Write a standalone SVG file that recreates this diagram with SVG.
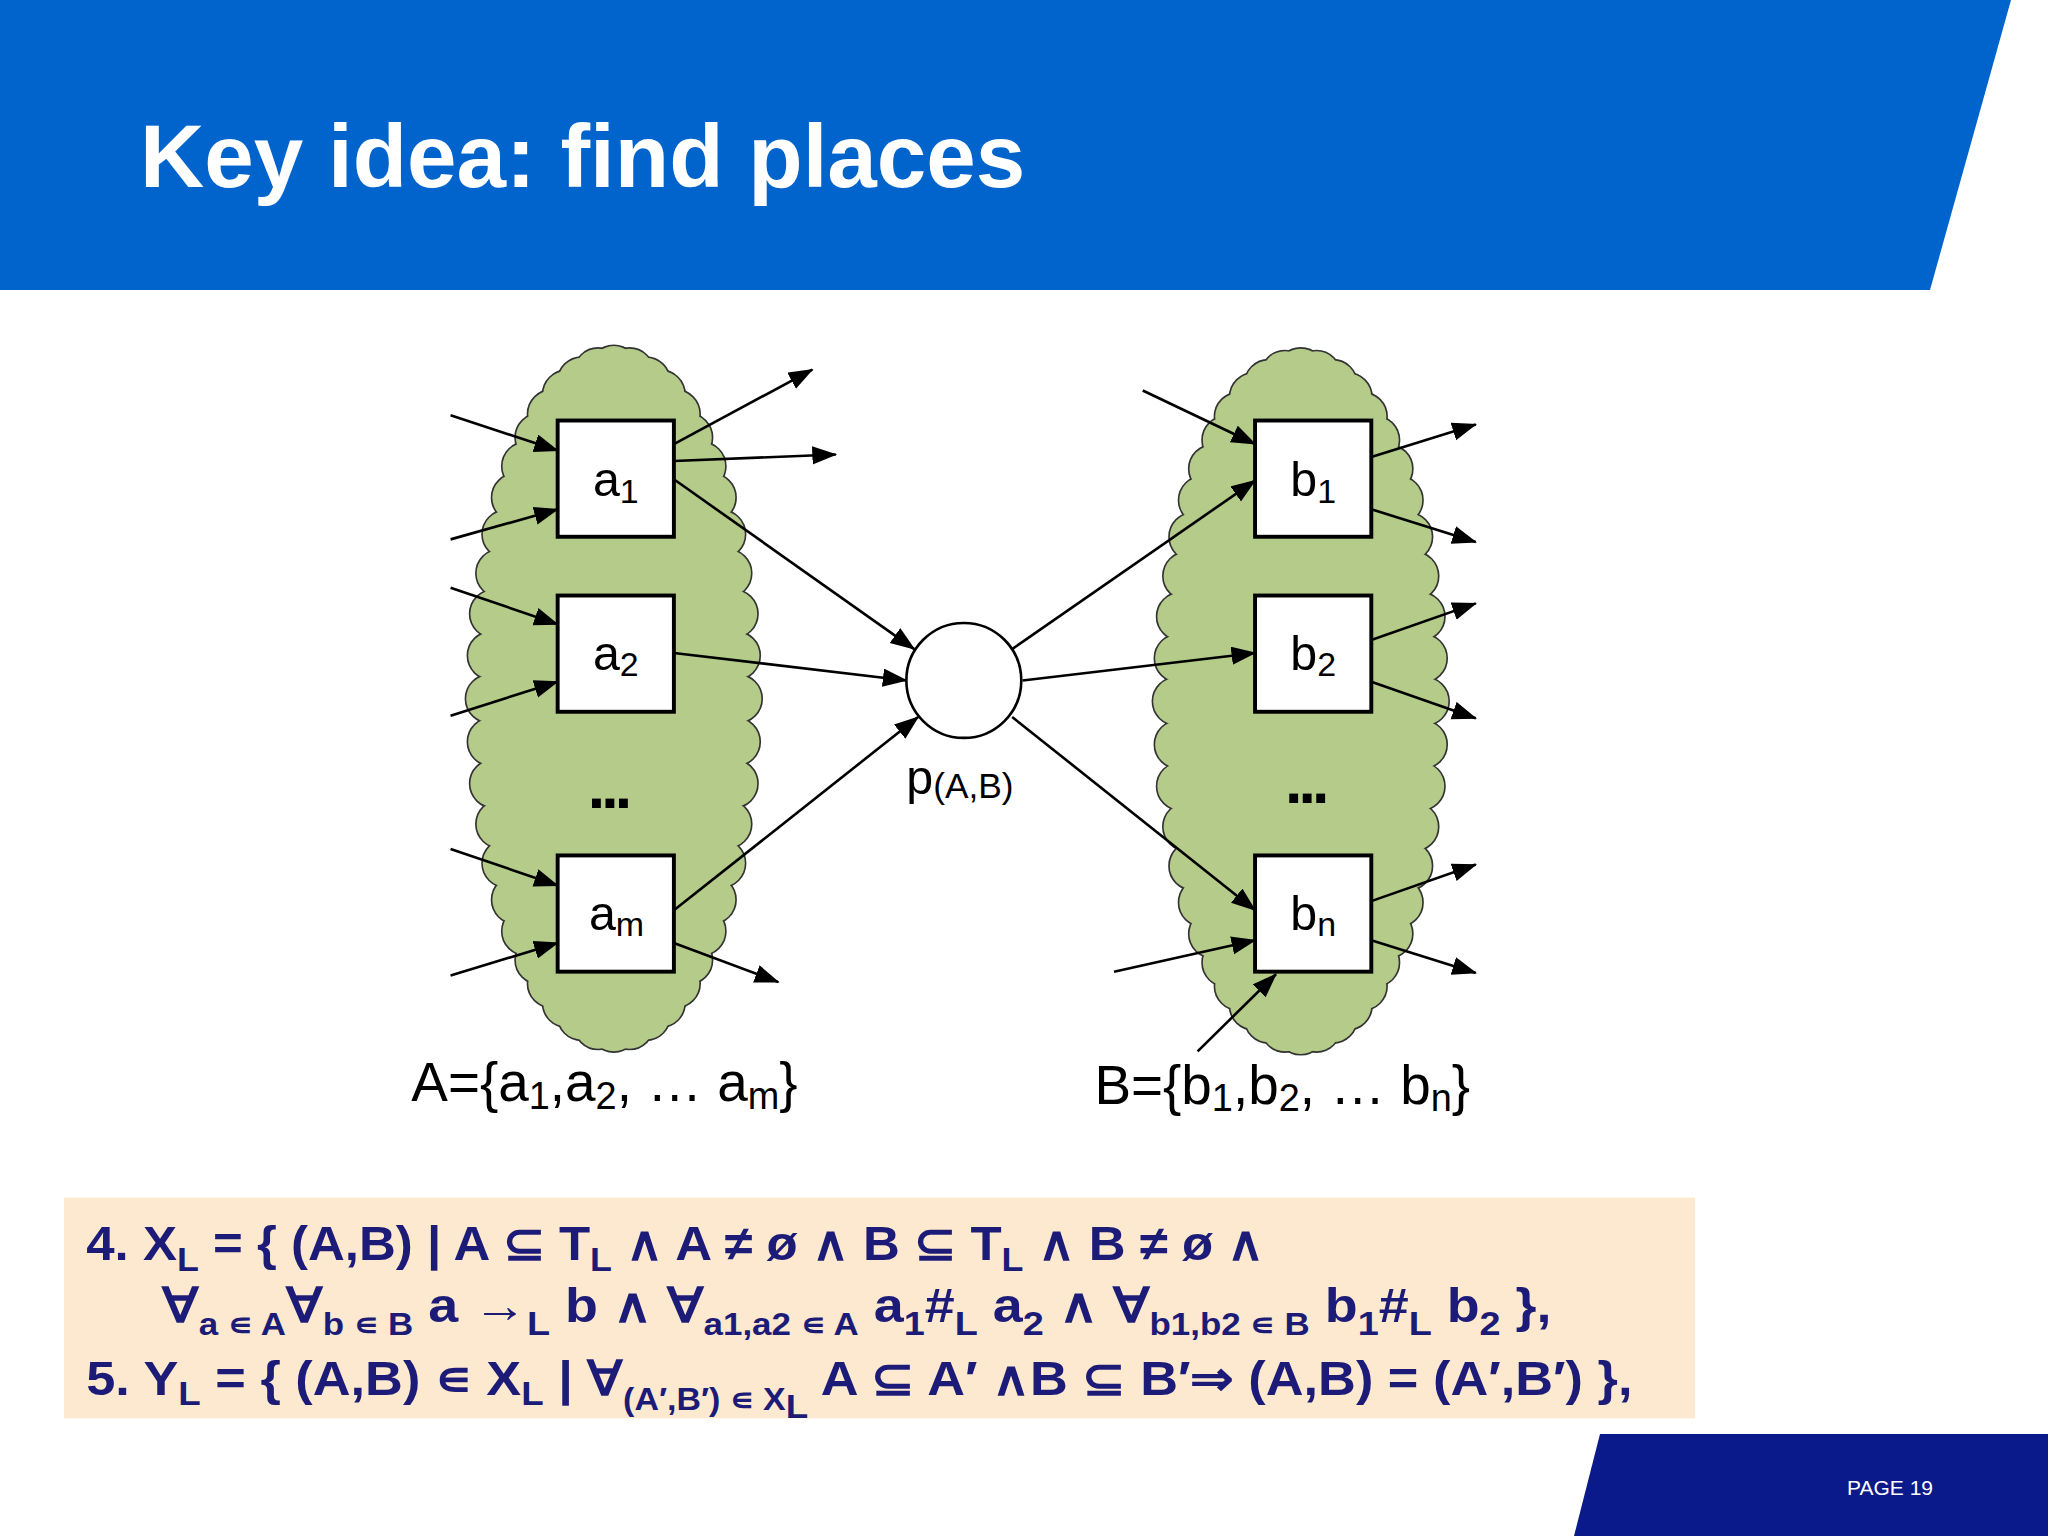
<svg xmlns="http://www.w3.org/2000/svg" xmlns:xlink="http://www.w3.org/1999/xlink" width="2048" height="1536" viewBox="0 0 2048 1536">
<style>
.box{fill:#fff;stroke:#000;stroke-width:3}
.lbl{font-family:"Liberation Sans",Arial,sans-serif;font-size:37px;fill:#000}
.e{stroke:#000;stroke-width:2;fill:none;marker-end:url(#ah)}
.f{font-family:"Liberation Sans",Arial,sans-serif;font-weight:bold;font-size:37px;fill:#1c1c78}
.cl-o{fill:#b4cb8a;stroke:#333;stroke-width:2.5}
.cl-i{fill:#b4cb8a;stroke:none}
</style>
<defs>
<marker id="ah" markerUnits="userSpaceOnUse" markerWidth="20" markerHeight="16" refX="18" refY="7" orient="auto"><path d="M0,0 L19,7 L0,14 Z" fill="#000"/></marker>
<g id="cloud">
<ellipse cx="0" cy="0" rx="95" ry="252"/>
<circle cx="95" cy="0" r="18"/><circle cx="93.5" cy="33" r="18"/><circle cx="91.8" cy="65" r="18"/><circle cx="87" cy="96" r="18"/><circle cx="82.3" cy="126" r="18"/><circle cx="75" cy="154" r="18"/><circle cx="67.2" cy="178" r="18"/><circle cx="57" cy="200" r="18"/><circle cx="47.5" cy="218" r="18"/><circle cx="36" cy="233" r="18"/><circle cx="24.6" cy="243" r="18"/><circle cx="12" cy="250" r="18"/><circle cx="0" cy="252" r="18"/>
<circle cx="-12" cy="250" r="18"/><circle cx="-24.6" cy="243" r="18"/><circle cx="-36" cy="233" r="18"/><circle cx="-47.5" cy="218" r="18"/><circle cx="-57" cy="200" r="18"/><circle cx="-67.2" cy="178" r="18"/><circle cx="-75" cy="154" r="18"/><circle cx="-82.3" cy="126" r="18"/><circle cx="-87" cy="96" r="18"/><circle cx="-91.8" cy="65" r="18"/><circle cx="-93.5" cy="33" r="18"/><circle cx="-95" cy="0" r="18"/>
<circle cx="-93.5" cy="-33" r="18"/><circle cx="-91.8" cy="-65" r="18"/><circle cx="-87" cy="-96" r="18"/><circle cx="-82.3" cy="-126" r="18"/><circle cx="-75" cy="-154" r="18"/><circle cx="-67.2" cy="-178" r="18"/><circle cx="-57" cy="-200" r="18"/><circle cx="-47.5" cy="-218" r="18"/><circle cx="-36" cy="-233" r="18"/><circle cx="-24.6" cy="-243" r="18"/><circle cx="-12" cy="-250" r="18"/><circle cx="0" cy="-252" r="18"/>
<circle cx="12" cy="-250" r="18"/><circle cx="24.6" cy="-243" r="18"/><circle cx="36" cy="-233" r="18"/><circle cx="47.5" cy="-218" r="18"/><circle cx="57" cy="-200" r="18"/><circle cx="67.2" cy="-178" r="18"/><circle cx="75" cy="-154" r="18"/><circle cx="82.3" cy="-126" r="18"/><circle cx="87" cy="-96" r="18"/><circle cx="91.8" cy="-65" r="18"/><circle cx="93.5" cy="-33" r="18"/>
</g>
</defs>
<rect width="2048" height="1536" fill="#fff"/>
<polygon points="0,0 2011,0 1930,290 0,290" fill="#0064cc"/>
<text x="140" y="187" font-family="Liberation Sans,Arial,sans-serif" font-weight="bold" font-size="89" fill="#fff">Key idea: find places</text>
<polygon points="1600,1434 2048,1434 2048,1536 1574,1536" fill="#0a1a8a"/>
<text x="1847" y="1495" font-family="Liberation Sans,Arial,sans-serif" font-size="21" fill="#fff">PAGE 19</text>
<g transform="scale(1.306)">
<g id="cloudA"><use xlink:href="#cloud" x="470" y="535" class="cl-o"/><use xlink:href="#cloud" x="470" y="535" class="cl-i"/></g>
<g id="cloudB"><use xlink:href="#cloud" x="996" y="537" class="cl-o"/><use xlink:href="#cloud" x="996" y="537" class="cl-i"/></g>
<g id="connectors">
<line class="e" x1="345" y1="318" x2="427" y2="345"/>
<line class="e" x1="345" y1="413" x2="427" y2="390"/>
<line class="e" x1="345" y1="450" x2="427" y2="478"/>
<line class="e" x1="345" y1="548" x2="427" y2="522"/>
<line class="e" x1="345" y1="650" x2="427" y2="678"/>
<line class="e" x1="345" y1="747" x2="427" y2="722"/>
<line class="e" x1="516" y1="340" x2="622" y2="283"/>
<line class="e" x1="516" y1="353" x2="640" y2="348"/>
<line class="e" x1="516" y1="367" x2="700" y2="497"/>
<line class="e" x1="516" y1="500" x2="694" y2="521"/>
<line class="e" x1="516" y1="697" x2="703" y2="549"/>
<line class="e" x1="516" y1="722" x2="596" y2="752"/>
<line class="e" x1="775" y1="497" x2="961" y2="368"/>
<line class="e" x1="783" y1="521" x2="961" y2="500"/>
<line class="e" x1="775" y1="549" x2="961" y2="697"/>
<line class="e" x1="875" y1="299" x2="961" y2="340"/>
<line class="e" x1="853" y1="744" x2="961" y2="720"/>
<line class="e" x1="917" y1="805" x2="977" y2="746"/>
<line class="e" x1="1050" y1="350" x2="1130" y2="325"/>
<line class="e" x1="1050" y1="390" x2="1130" y2="415"/>
<line class="e" x1="1050" y1="490" x2="1130" y2="462"/>
<line class="e" x1="1050" y1="522" x2="1130" y2="550"/>
<line class="e" x1="1050" y1="690" x2="1130" y2="662"/>
<line class="e" x1="1050" y1="720" x2="1130" y2="745"/>
</g>
<g id="a1"><rect class="box" x="427" y="322" width="89" height="89"/><text class="lbl" x="454" y="380">a<tspan font-size="26" dy="5">1</tspan></text></g>
<g id="a2"><rect class="box" x="427" y="456" width="89" height="89"/><text class="lbl" x="454" y="513">a<tspan font-size="26" dy="5">2</tspan></text></g>
<g id="am"><rect class="box" x="427" y="655" width="89" height="89"/><text class="lbl" x="451" y="712">a<tspan font-size="26" dy="5">m</tspan></text></g>
<g id="b1"><rect class="box" x="961" y="322" width="89" height="89"/><text class="lbl" x="988" y="380">b<tspan font-size="26" dy="5">1</tspan></text></g>
<g id="b2"><rect class="box" x="961" y="456" width="89" height="89"/><text class="lbl" x="988" y="513">b<tspan font-size="26" dy="5">2</tspan></text></g>
<g id="bn"><rect class="box" x="961" y="655" width="89" height="89"/><text class="lbl" x="988" y="712">b<tspan font-size="26" dy="5">n</tspan></text></g>
<text x="450" y="619" font-family="Liberation Sans,Arial,sans-serif" font-weight="bold" font-size="48" letter-spacing="-3">...</text>
<text x="984" y="615" font-family="Liberation Sans,Arial,sans-serif" font-weight="bold" font-size="48" letter-spacing="-3">...</text>
<g id="p"><circle cx="738" cy="521" r="44" fill="#fff" stroke="#000" stroke-width="2"/><text class="lbl" x="694" y="608" font-size="40">p<tspan font-size="27" dy="3">(A,B)</tspan></text></g>
<text x="315" y="843" font-family="Liberation Sans,Arial,sans-serif" font-size="42">A={a<tspan font-size="29" dy="6">1</tspan><tspan dy="-6">,a</tspan><tspan font-size="29" dy="6">2</tspan><tspan dy="-6">, … a</tspan><tspan font-size="29" dy="6">m</tspan><tspan dy="-6">}</tspan></text>
<text x="838" y="845" font-family="Liberation Sans,Arial,sans-serif" font-size="42">B={b<tspan font-size="29" dy="6">1</tspan><tspan dy="-6">,b</tspan><tspan font-size="29" dy="6">2</tspan><tspan dy="-6">, … b</tspan><tspan font-size="29" dy="6">n</tspan><tspan dy="-6">}</tspan></text>
<rect x="49" y="917" width="1249" height="169" fill="#fde9cf"/>
<text class="f" x="66" y="965" textLength="902" lengthAdjust="spacingAndGlyphs">4.  X<tspan font-size="26" dy="8">L</tspan><tspan dy="-8"> = { (A,B) |  A ⊆ T</tspan><tspan font-size="26" dy="8">L</tspan><tspan dy="-8">  ∧ A ≠ ø ∧ B ⊆ T</tspan><tspan font-size="26" dy="8">L</tspan><tspan dy="-8"> ∧ B ≠ ø ∧</tspan></text>
<text class="f" x="124" y="1012" textLength="1064" lengthAdjust="spacingAndGlyphs">∀<tspan font-size="24" dy="10">a ∊ A</tspan><tspan dy="-10">∀</tspan><tspan font-size="24" dy="10">b ∊ B</tspan><tspan dy="-10"> a →</tspan><tspan font-size="26" dy="10">L</tspan><tspan dy="-10"> b   ∧  ∀</tspan><tspan font-size="24" dy="10">a1,a2 ∊ A</tspan><tspan dy="-10"> a</tspan><tspan font-size="26" dy="10">1</tspan><tspan dy="-10">#</tspan><tspan font-size="26" dy="10">L</tspan><tspan dy="-10"> a</tspan><tspan font-size="26" dy="10">2</tspan><tspan dy="-10">  ∧  ∀</tspan><tspan font-size="24" dy="10">b1,b2 ∊ B</tspan><tspan dy="-10"> b</tspan><tspan font-size="26" dy="10">1</tspan><tspan dy="-10">#</tspan><tspan font-size="26" dy="10">L</tspan><tspan dy="-10"> b</tspan><tspan font-size="26" dy="10">2</tspan><tspan dy="-10"> },</tspan></text>
<text class="f" x="66" y="1068" textLength="1184" lengthAdjust="spacingAndGlyphs">5.  Y<tspan font-size="26" dy="8">L</tspan><tspan dy="-8"> = { (A,B) ∊ X</tspan><tspan font-size="26" dy="8">L</tspan><tspan dy="-8">  |  ∀</tspan><tspan font-size="24" dy="12">(A′,B′) ∊ X</tspan><tspan font-size="26" dy="6">L</tspan><tspan dy="-18"> A ⊆ A′ ∧B ⊆ B′⇒ (A,B) = (A′,B′) },</tspan></text>
</g>
</svg>
